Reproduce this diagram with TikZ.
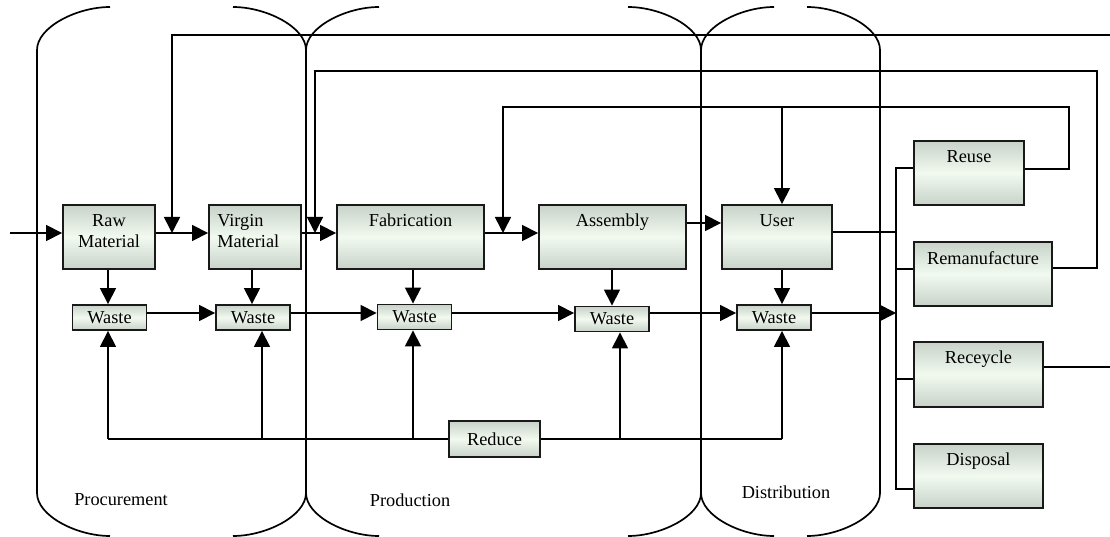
\documentclass[tikz,border=0pt]{standalone}
\usepackage{fontspec}
\setmainfont{Liberation Serif}
\usetikzlibrary{arrows.meta}
\definecolor{boxedge}{RGB}{200,210,200}
\definecolor{boxmid}{RGB}{242,250,240}
\begin{document}
\begin{tikzpicture}[x=1pt,y=-1pt,
  font=\fontsize{18.3}{21}\selectfont,
  phase/.style={line width=1.7pt},
  box/.style={rectangle, draw=black!90, line width=1.9pt, top color=boxedge,
    bottom color=boxedge, middle color=boxmid, inner sep=0pt},
  bigbox/.style={box, minimum height=64pt},
  wastebox/.style={box, minimum width=74pt, minimum height=25pt},
  lbl/.style={inner sep=0pt, align=center},
  conn/.style={line width=1.6pt},
  arr/.style={conn, -{Triangle[length=16pt,width=16pt]}}]
\useasboundingbox (0,0) rectangle (1110,537);

% phase columns: each side is a vertical edge with curved ends
\foreach \x/\d in {37/1, 306/-1, 306/1, 701/-1, 701/1, 880/-1}{
  \draw[phase] ({\x+73*\d},7) .. controls ({\x+40*\d},7) and (\x,27) .. (\x,50)
    -- (\x,493) .. controls (\x,516) and ({\x+40*\d},536) .. ({\x+73*\d},536);
}
\node (procL) at (121,500) {Procurement};
\node (prodL) at (410,500) {Production};
\node (distL) at (786,492) {Distribution};

% process boxes
\node[bigbox, minimum width=92pt]  (raw)    at (109,237)   {};
\node[bigbox, minimum width=92pt]  (virgin) at (255,237)   {};
\node[bigbox, minimum width=147pt] (fab)    at (410.5,237) {};
\node[bigbox, minimum width=147pt] (asm)    at (612.5,237) {};
\node[bigbox, minimum width=110pt] (user)   at (777,237)   {};
\node[bigbox, minimum width=110pt] (reuse)  at (969,173)   {};
\node[bigbox, minimum width=138pt] (reman)  at (983,274)   {};
\node[bigbox, minimum width=129pt, minimum height=65pt] (recy) at (978.5,374.5) {};
\node[bigbox, minimum width=129pt] (disp)   at (978.5,476) {};

\node[lbl, anchor=north] (rawT) at ([yshift=-10pt]raw.north) {Raw\\Material};
\node[lbl, anchor=north west, align=left] (virginT)
  at ([xshift=9pt,yshift=-10pt]virgin.north west) {Virgin\\Material};
\node[lbl, anchor=north] (fabT)   at ([yshift=-10pt]fab.north)   {Fabrication};
\node[lbl, anchor=north] (asmT)   at ([yshift=-10pt]asm.north)   {Assembly};
\node[lbl, anchor=north] (userT)  at ([yshift=-10pt]user.north)  {User};
\node[lbl, anchor=north] (reuseT) at ([yshift=-10pt]reuse.north) {Reuse};
\node[lbl, anchor=north] (remanT) at ([yshift=-10pt]reman.north) {Remanufacture};
\node[lbl, anchor=north] (recyT)  at ([yshift=-10pt]recy.north)  {Receycle};
\node[lbl, anchor=north] (dispT)  at ([yshift=-10pt]disp.north)  {Disposal};

% waste boxes and the reduce box
\node[wastebox] (w1) at (109.5,317.5) {Waste};
\node[wastebox] (w2) at (253,317.5)   {Waste};
\node[wastebox] (w3) at (414.5,317)   {Waste};
\node[wastebox] (w4) at (612,319)     {Waste};
\node[wastebox] (w5) at (774,317.5)   {Waste};
\node[box, minimum width=91pt, minimum height=36pt] (reduce) at (494.5,439) {Reduce};

% main material flow
\coordinate (start) at (10,233);
\coordinate (m1) at (172,233);
\coordinate (m2) at (315,233);
\coordinate (m3) at (503,233);
\coordinate (m4) at (700,223);
\draw[arr] (start) -- (raw.west |- start);
\draw[arr] (raw.east |- m1) -- (virgin.west |- m1);
\draw[arr] (virgin.east |- m2) -- (fab.west |- m2);
\draw[arr] (fab.east |- m3) -- (asm.west |- m3);
\draw[arr] (asm.east |- m4) -- (user.west |- m4);

% return loops
\coordinate (edgeR) at (1110,367);
\coordinate (edgeT) at (1110,35);
\draw[conn] (recy.east |- edgeR) -- (edgeR);
\draw[arr] (edgeT) -- (m1 |- edgeT) -- (m1);

\coordinate (rm) at (1097,268);
\coordinate (rmTop) at (1097,71);
\draw[arr] (reman.east |- rm) -- (rm) -- (rmTop) -- (m2 |- rmTop) -- (m2);

\coordinate (ru) at (1069,169);
\coordinate (ruTop) at (1069,107);
\draw[arr] (reuse.east |- ru) -- (ru) -- (ruTop) -- (m3 |- ruTop) -- (m3);
\coordinate (uTop) at (782,107);
\draw[arr] (uTop) -- (user.north -| uTop);

% end-of-life bus
\coordinate (bT) at (896,168);
\coordinate (bB) at (896,489);
\coordinate (bRm) at (896,269);
\coordinate (bRc) at (896,379);
\coordinate (bU) at (896,232);
\coordinate (bW) at (896,313);
\draw[conn] (reuse.west |- bT) -- (bT) -- (bB) -- (disp.west |- bB);
\draw[conn] (bRm) -- (reman.west |- bRm);
\draw[conn] (bRc) -- (recy.west |- bRc);
\draw[conn] (user.east |- bU) -- (bU);

% waste chain
\coordinate (wr) at (0,313);
\draw[arr] (w1.east |- wr) -- (w2.west |- wr);
\draw[arr] (w2.east |- wr) -- (w3.west |- wr);
\draw[arr] (w3.east |- wr) -- (w4.west |- wr);
\draw[arr] (w4.east |- wr) -- (w5.west |- wr);
\draw[arr] (w5.east |- bW) -- (bW);

% process to waste
\coordinate (e1) at (108,0);
\coordinate (e2) at (252,0);
\coordinate (e3) at (413,0);
\coordinate (e4) at (612,0);
\coordinate (e5) at (782,0);
\draw[arr] (raw.south -| e1) -- (w1.north -| e1);
\draw[arr] (virgin.south -| e2) -- (w2.north -| e2);
\draw[arr] (fab.south -| e3) -- (w3.north -| e3);
\draw[arr] (asm.south -| e4) -- (w4.north -| e4);
\draw[arr] (user.south -| e5) -- (w5.north -| e5);

% reduce feeds every waste point
\coordinate (c1) at (108,439);
\coordinate (c2) at (262,439);
\coordinate (c3) at (413,439);
\coordinate (c4) at (620,439);
\coordinate (c5) at (782,439);
\draw[conn] (c1) -- (reduce.west);
\draw[conn] (reduce.east) -- (c5);
\draw[arr] (c1) -- (w1.south -| c1);
\draw[arr] (c2) -- (w2.south -| c2);
\draw[arr] (c3) -- (w3.south -| c3);
\draw[arr] (c4) -- (w4.south -| c4);
\draw[arr] (c5) -- (w5.south -| c5);
\end{tikzpicture}
\end{document}
